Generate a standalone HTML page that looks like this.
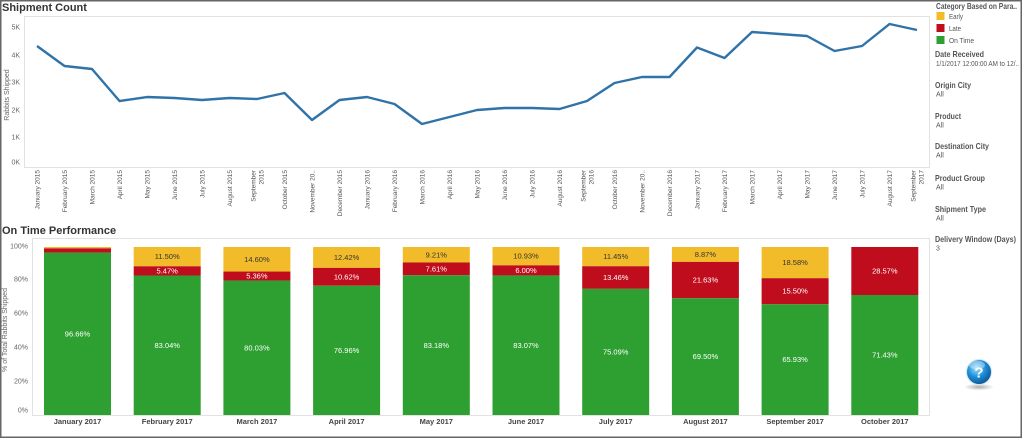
<!DOCTYPE html>
<html><head><meta charset="utf-8"><style>
html,body{margin:0;padding:0;background:#fff;}
svg{display:block;font-family:"Liberation Sans",sans-serif;}
</style></head><body>
<svg width="1024" height="440" viewBox="0 0 1024 440" xmlns="http://www.w3.org/2000/svg">
<defs>
<radialGradient id="hg" cx="0.4" cy="0.35" r="0.7">
<stop offset="0" stop-color="#9fe0ff"/><stop offset="0.5" stop-color="#1e8fd8"/><stop offset="1" stop-color="#0a4f8f"/>
</radialGradient>
<radialGradient id="sh" cx="0.5" cy="0.5" r="0.5">
<stop offset="0" stop-color="#888" stop-opacity="0.7"/><stop offset="1" stop-color="#888" stop-opacity="0"/>
</radialGradient>
</defs>
<rect x="0" y="0" width="1024" height="440" fill="#fff"/>
<!-- outer frame -->
<rect x="0.75" y="0.75" width="1020.5" height="436.5" fill="none" stroke="#666" stroke-width="1.5"/>

<!-- ===== Top chart ===== -->
<text x="2" y="11" font-size="11" font-weight="bold" fill="#333">Shipment Count</text>
<rect x="24.5" y="16.5" width="905" height="151" fill="none" stroke="#e2e2e2" stroke-width="1"/>
<g font-size="7" fill="#666" text-anchor="end">
<text x="20" y="29.5">5K</text>
<text x="20" y="57.5">4K</text>
<text x="20" y="84.5">3K</text>
<text x="20" y="112.5">2K</text>
<text x="20" y="139.5">1K</text>
<text x="20" y="164.5">0K</text>
</g>
<text transform="translate(9,95) rotate(-90)" font-size="7" fill="#666" text-anchor="middle">Rabbits Shipped</text>
<polyline fill="none" stroke="#2f73a8" stroke-width="2.4" stroke-linejoin="round" points="37,46 64.5,66 92,69 119.5,101 147,97 174.5,98 202,100 229.5,98 257,99 284.5,93 312,120 339.5,100 367,97 394.5,104 422,124 449.5,117 477,110 504.5,108 532,108 559.5,109 587,101 614.5,83 642,77 669.5,77 697,47.5 724.5,58 752,32 779.5,34 807,36 834.5,51 862,46 889.5,24 917,30"/>
<g font-size="6.5" fill="#555" text-anchor="end">
<text transform="translate(39.5,170) rotate(-90)">January 2015</text>
<text transform="translate(67,170) rotate(-90)">February 2015</text>
<text transform="translate(94.5,170) rotate(-90)">March 2015</text>
<text transform="translate(122,170) rotate(-90)">April 2015</text>
<text transform="translate(149.5,170) rotate(-90)">May 2015</text>
<text transform="translate(177,170) rotate(-90)">June 2015</text>
<text transform="translate(204.5,170) rotate(-90)">July 2015</text>
<text transform="translate(232,170) rotate(-90)">August 2015</text>
<text transform="translate(255.5,170) rotate(-90)">September</text>
<text transform="translate(263.5,170) rotate(-90)">2015</text>
<text transform="translate(287,170) rotate(-90)">October 2015</text>
<text transform="translate(314.5,170) rotate(-90)">November 20..</text>
<text transform="translate(342,170) rotate(-90)">December 2015</text>
<text transform="translate(369.5,170) rotate(-90)">January 2016</text>
<text transform="translate(397,170) rotate(-90)">February 2016</text>
<text transform="translate(424.5,170) rotate(-90)">March 2016</text>
<text transform="translate(452,170) rotate(-90)">April 2016</text>
<text transform="translate(479.5,170) rotate(-90)">May 2016</text>
<text transform="translate(507,170) rotate(-90)">June 2016</text>
<text transform="translate(534.5,170) rotate(-90)">July 2016</text>
<text transform="translate(562,170) rotate(-90)">August 2016</text>
<text transform="translate(585.5,170) rotate(-90)">September</text>
<text transform="translate(593.5,170) rotate(-90)">2016</text>
<text transform="translate(617,170) rotate(-90)">October 2016</text>
<text transform="translate(644.5,170) rotate(-90)">November 20..</text>
<text transform="translate(672,170) rotate(-90)">December 2016</text>
<text transform="translate(699.5,170) rotate(-90)">January 2017</text>
<text transform="translate(727,170) rotate(-90)">February 2017</text>
<text transform="translate(754.5,170) rotate(-90)">March 2017</text>
<text transform="translate(782,170) rotate(-90)">April 2017</text>
<text transform="translate(809.5,170) rotate(-90)">May 2017</text>
<text transform="translate(837,170) rotate(-90)">June 2017</text>
<text transform="translate(864.5,170) rotate(-90)">July 2017</text>
<text transform="translate(892,170) rotate(-90)">August 2017</text>
<text transform="translate(915.5,170) rotate(-90)">September</text>
<text transform="translate(923.5,170) rotate(-90)">2017</text>
</g>

<!-- ===== Bottom chart ===== -->
<text x="2" y="234" font-size="11" font-weight="bold" fill="#333">On Time Performance</text>
<rect x="32.5" y="238.5" width="897" height="177" fill="none" stroke="#e2e2e2" stroke-width="1"/>
<g font-size="7" fill="#666" text-anchor="end">
<text x="28" y="248.5">100%</text>
<text x="28" y="281.5">80%</text>
<text x="28" y="315.5">60%</text>
<text x="28" y="349.5">40%</text>
<text x="28" y="383.5">20%</text>
<text x="28" y="412.5">0%</text>
</g>
<text transform="translate(7,330) rotate(-90)" font-size="7" fill="#666" text-anchor="middle">% of Total Rabbits Shipped</text>

<g>
<rect x="44" y="247" width="67" height="1.41" fill="#f2bb2a"/>
<rect x="44" y="248.41" width="67" height="4.2" fill="#c00d1e"/>
<rect x="44" y="252.61" width="67" height="162.39" fill="#2ea032"/>
<rect x="133.7" y="246.98" width="67" height="19.32" fill="#f2bb2a"/>
<rect x="133.7" y="266.3" width="67" height="9.19" fill="#c00d1e"/>
<rect x="133.7" y="275.49" width="67" height="139.51" fill="#2ea032"/>
<rect x="223.4" y="247.02" width="67" height="24.53" fill="#f2bb2a"/>
<rect x="223.4" y="271.55" width="67" height="9" fill="#c00d1e"/>
<rect x="223.4" y="280.55" width="67" height="134.45" fill="#2ea032"/>
<rect x="313.1" y="247" width="67" height="20.87" fill="#f2bb2a"/>
<rect x="313.1" y="267.87" width="67" height="17.84" fill="#c00d1e"/>
<rect x="313.1" y="285.71" width="67" height="129.29" fill="#2ea032"/>
<rect x="402.8" y="247.01" width="67" height="15.47" fill="#f2bb2a"/>
<rect x="402.8" y="262.48" width="67" height="12.78" fill="#c00d1e"/>
<rect x="402.8" y="275.26" width="67" height="139.74" fill="#2ea032"/>
<rect x="492.5" y="247" width="67" height="18.36" fill="#f2bb2a"/>
<rect x="492.5" y="265.36" width="67" height="10.08" fill="#c00d1e"/>
<rect x="492.5" y="275.44" width="67" height="139.56" fill="#2ea032"/>
<rect x="582.2" y="247" width="67" height="19.24" fill="#f2bb2a"/>
<rect x="582.2" y="266.24" width="67" height="22.61" fill="#c00d1e"/>
<rect x="582.2" y="288.85" width="67" height="126.15" fill="#2ea032"/>
<rect x="671.9" y="247" width="67" height="14.9" fill="#f2bb2a"/>
<rect x="671.9" y="261.9" width="67" height="36.34" fill="#c00d1e"/>
<rect x="671.9" y="298.24" width="67" height="116.76" fill="#2ea032"/>
<rect x="761.6" y="247" width="67" height="31.2" fill="#f2bb2a"/>
<rect x="761.6" y="278.2" width="67" height="26.04" fill="#c00d1e"/>
<rect x="761.6" y="304.24" width="67" height="110.76" fill="#2ea032"/>
<rect x="851.3" y="247" width="67" height="48" fill="#c00d1e"/>
<rect x="851.3" y="295" width="67" height="120" fill="#2ea032"/>
</g>

<g font-size="7.5" text-anchor="middle">
<g fill="#fff">
<text x="77.5" y="336.5">96.66%</text>
<text x="167.2" y="348">83.04%</text>
<text x="256.9" y="350.5">80.03%</text>
<text x="346.6" y="353">76.96%</text>
<text x="436.3" y="347.8">83.18%</text>
<text x="526" y="347.8">83.07%</text>
<text x="615.7" y="354.5">75.09%</text>
<text x="705.4" y="359">69.50%</text>
<text x="795.1" y="362">65.93%</text>
<text x="884.8" y="357.5">71.43%</text>
<text x="167.2" y="273.5">5.47%</text>
<text x="256.9" y="278.6">5.36%</text>
<text x="346.6" y="279.3">10.62%</text>
<text x="436.3" y="271.4">7.61%</text>
<text x="526" y="273">6.00%</text>
<text x="615.7" y="280">13.46%</text>
<text x="705.4" y="282.6">21.63%</text>
<text x="795.1" y="293.7">15.50%</text>
<text x="884.8" y="273.5">28.57%</text>
</g>
<g fill="#333">
<text x="167.2" y="259.2">11.50%</text>
<text x="256.9" y="261.8">14.60%</text>
<text x="346.6" y="260">12.42%</text>
<text x="436.3" y="257.3">9.21%</text>
<text x="526" y="258.7">10.93%</text>
<text x="615.7" y="259.1">11.45%</text>
<text x="705.4" y="257">8.87%</text>
<text x="795.1" y="265.1">18.58%</text>
</g>
</g>

<g font-size="7.5" font-weight="bold" fill="#444" text-anchor="middle">
<text x="77.5" y="424">January 2017</text>
<text x="167.2" y="424">February 2017</text>
<text x="256.9" y="424">March 2017</text>
<text x="346.6" y="424">April 2017</text>
<text x="436.3" y="424">May 2017</text>
<text x="526" y="424">June 2017</text>
<text x="615.7" y="424">July 2017</text>
<text x="705.4" y="424">August 2017</text>
<text x="795.1" y="424">September 2017</text>
<text x="884.8" y="424">October 2017</text>
</g>

<!-- ===== Right panel ===== -->
<g fill="#555">
<text x="936" y="9" font-size="8.5" font-weight="bold" textLength="81" lengthAdjust="spacingAndGlyphs">Category Based on Para..</text>
<rect x="936.5" y="12" width="8" height="8" fill="#f2bb2a"/>
<text x="949" y="19" font-size="7" textLength="14" lengthAdjust="spacingAndGlyphs">Early</text>
<rect x="936.5" y="24" width="8" height="8" fill="#c00d1e"/>
<text x="949" y="31" font-size="7" textLength="12" lengthAdjust="spacingAndGlyphs">Late</text>
<rect x="936.5" y="36" width="8" height="8" fill="#2ea032"/>
<text x="949" y="43" font-size="7" textLength="25" lengthAdjust="spacingAndGlyphs">On Time</text>

<text x="935" y="57" font-size="8.5" font-weight="bold" textLength="49" lengthAdjust="spacingAndGlyphs">Date Received</text>
<text x="936" y="66" font-size="7" textLength="83" lengthAdjust="spacingAndGlyphs">1/1/2017 12:00:00 AM to 12/..</text>
<text x="935" y="88" font-size="8.5" font-weight="bold" textLength="36" lengthAdjust="spacingAndGlyphs">Origin City</text>
<text x="936" y="96.5" font-size="7">All</text>
<text x="935" y="119" font-size="8.5" font-weight="bold" textLength="26" lengthAdjust="spacingAndGlyphs">Product</text>
<text x="936" y="127.5" font-size="7">All</text>
<text x="935" y="149" font-size="8.5" font-weight="bold" textLength="54" lengthAdjust="spacingAndGlyphs">Destination City</text>
<text x="936" y="157.5" font-size="7">All</text>
<text x="935" y="181" font-size="8.5" font-weight="bold" textLength="50" lengthAdjust="spacingAndGlyphs">Product Group</text>
<text x="936" y="189.5" font-size="7">All</text>
<text x="935" y="212" font-size="8.5" font-weight="bold" textLength="51" lengthAdjust="spacingAndGlyphs">Shipment Type</text>
<text x="936" y="220.5" font-size="7">All</text>
<text x="935" y="242" font-size="8.5" font-weight="bold" textLength="81" lengthAdjust="spacingAndGlyphs">Delivery Window (Days)</text>
<text x="936" y="250.5" font-size="7">3</text>
</g>

<!-- help icon -->
<ellipse cx="979" cy="387" rx="15" ry="3.5" fill="url(#sh)"/>
<circle cx="979" cy="372" r="12.5" fill="url(#hg)" stroke="#cfe6f5" stroke-width="1"/>
<ellipse cx="977" cy="365" rx="8" ry="4.5" fill="#fff" opacity="0.35"/>
<text x="979" y="377.5" font-size="15" font-weight="bold" fill="#fff" text-anchor="middle">?</text>
</svg>
</body></html>
